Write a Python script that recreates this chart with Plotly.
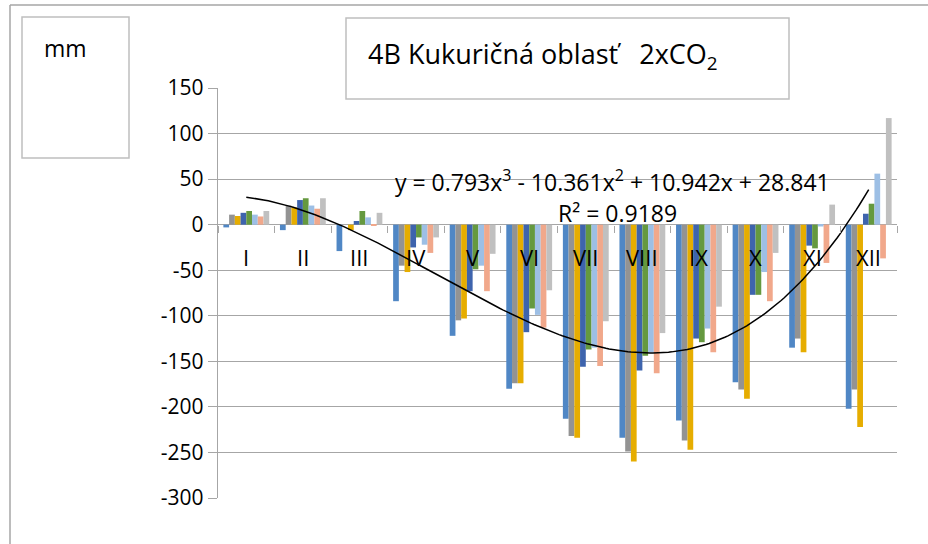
import numpy as np
import plotly.graph_objects as go

# ---------------- data ----------------
months = ["I", "II", "III", "IV", "V", "VI", "VII", "VIII", "IX", "X", "XI", "XII"]
series_names = ["Séria 1", "Séria 2", "Séria 3", "Séria 4", "Séria 5", "Séria 6", "Séria 7", "Séria 8"]
s1 = [-3, -6, -29, -84, -122, -180, -213, -234, -215, -173, -135, -202]
s2 = [11, 21, 0, -45, -105, -174, -232, -249, -237, -181, -125, -181]
s3 = [9.5, 19, -6, -52, -103, -174, -234, -260, -247, -191, -140, -222]
s4 = [13, 27, 4, -25, -73, -118, -156, -160, -125, -77, -23, 12]
s5 = [15, 29, 15, -14, -49, -92, -137, -144, -129, -77, -26, 23]
s6 = [11, 21, 8, -22, -45, -99, -135, -140, -114, -52, -2, 56]
s7 = [9, 17.5, -1, -31, -73, -113, -155, -163, -140, -84, -42, -37]
s8 = [15, 29, 13, -14, -32, -72, -106, -119, -90, -31, 22, 117]
trend_coeffs = [0.793, -10.361, 10.942, 28.841]   # y = a x^3 + b x^2 + c x + d
y_ticks = [150, 100, 50, 0, -50, -100, -150, -200, -250, -300]
y_tick_labels = ["150", "100", "50", "0", "-50", "-100", "-150", "-200", "-250", "-300"]

title_text = "4B Kukuričná oblasť\u00a0\u00a0\u00a02xCO<sub>2</sub>"
unit_text = "mm"
eq_text = "y = 0.793x<sup>3</sup> - 10.361x<sup>2</sup> + 10.942x + 28.841"
r2_text = "R² = 0.9189"

colors = ["#5087C5", "#939393", "#E6AD00", "#3E64AD", "#65993F", "#9DBFE5", "#F1A88B", "#C0C0C0"]
FONT = "Open Sans"
GRID = "#A6A6A6"

# ---------------- geometry helpers ----------------
W, H = 928, 544
L, R, T, B = 218, 31, 88, 46
PW, PH = W - L - R, H - T - B


def px(xp):
    return (xp - L) / PW


def py(yp):
    return (H - B - yp) / PH


xpos = list(range(1, len(months) + 1))
fig = go.Figure()
for name, vals, col in zip(series_names, [s1, s2, s3, s4, s5, s6, s7, s8], colors):
    fig.add_trace(go.Bar(x=xpos, y=vals, name=name, marker=dict(color=col, line=dict(width=0)),
                         showlegend=False))

xt = np.linspace(1, len(months), 200)
yt = np.polyval(trend_coeffs, xt)
fig.add_trace(go.Scatter(x=xt, y=yt, mode="lines", line=dict(color="black", width=1.5),
                         showlegend=False, hoverinfo="skip"))

# helper trace for the category tick axis
boundaries = [i + 0.5 for i in range(len(months) + 1)]
fig.add_trace(go.Scatter(x=[boundaries[0], boundaries[-1]], y=[0, 0], xaxis="x2", mode="lines",
                         line=dict(width=0), showlegend=False, hoverinfo="skip"))

ymin, ymax = min(y_ticks), max(y_ticks)

annotations = []
for i, m in enumerate(months):
    annotations.append(dict(x=xpos[i], y=-36, xref="x", yref="y", text=m, showarrow=False,
                            xanchor="center", yanchor="middle",
                            font=dict(family=FONT, size=22, color="black")))
annotations += [
    dict(x=px(612), y=py(181), xref="paper", yref="paper", text=eq_text, showarrow=False,
         xanchor="center", yanchor="middle", font=dict(family=FONT, size=23, color="black")),
    dict(x=px(617), y=py(213), xref="paper", yref="paper", text=r2_text, showarrow=False,
         xanchor="center", yanchor="middle", font=dict(family=FONT, size=23, color="black")),
    dict(x=px(65), y=py(48), xref="paper", yref="paper", text=unit_text, showarrow=False,
         xanchor="center", yanchor="middle", font=dict(family=FONT, size=23, color="black")),
    dict(x=px(366), y=py(56), xref="paper", yref="paper", text=title_text, showarrow=False,
         xanchor="left", yanchor="middle", font=dict(family=FONT, size=27, color="black")),
]

shapes = [
    # outer chart frame (top and left edges visible)
    dict(type="line", xref="paper", yref="paper", x0=px(10), x1=px(940), y0=py(5), y1=py(5),
         line=dict(color=GRID, width=1.5)),
    dict(type="line", xref="paper", yref="paper", x0=px(10), x1=px(10), y0=py(5), y1=py(560),
         line=dict(color=GRID, width=1.5)),
    # unit box
    dict(type="rect", xref="paper", yref="paper", x0=px(22), x1=px(129), y0=py(158), y1=py(17),
         line=dict(color="#BFBFBF", width=1.5), fillcolor="white"),
    # title box
    dict(type="rect", xref="paper", yref="paper", x0=px(346), x1=px(789), y0=py(99), y1=py(18),
         line=dict(color="#BFBFBF", width=1.5), fillcolor="white"),
]

fig.update_layout(
    width=W, height=H,
    margin=dict(l=L, r=R, t=T, b=B, pad=0),
    paper_bgcolor="white", plot_bgcolor="white",
    barmode="group", bargap=0.19, bargroupgap=0,
    font=dict(family=FONT, size=22, color="black"),
    xaxis=dict(range=[0.5, len(months) + 0.5], visible=False, showgrid=False, zeroline=False),
    xaxis2=dict(overlaying="x", anchor="free", position=(0 - ymin) / (ymax - ymin), matches="x",
                tickmode="array", tickvals=boundaries, ticks="outside", ticklen=7, tickwidth=1.3,
                tickcolor=GRID, showticklabels=False, showgrid=False, showline=False, zeroline=False),
    yaxis=dict(range=[ymin, ymax], tickmode="array", tickvals=y_ticks, ticktext=y_tick_labels,
               showgrid=True, gridcolor=GRID,
               gridwidth=1.4, zeroline=False, showline=True, linecolor=GRID, linewidth=1.4,
               ticks="outside", ticklen=9, tickcolor=GRID, tickwidth=1.4,
               tickfont=dict(family=FONT, size=21, color="black")),
    annotations=annotations,
    shapes=shapes,
)

fig.write_html("out.html", config={"displayModeBar": False},
               post_script="document.body.style.margin='0';document.body.style.padding='0';")
